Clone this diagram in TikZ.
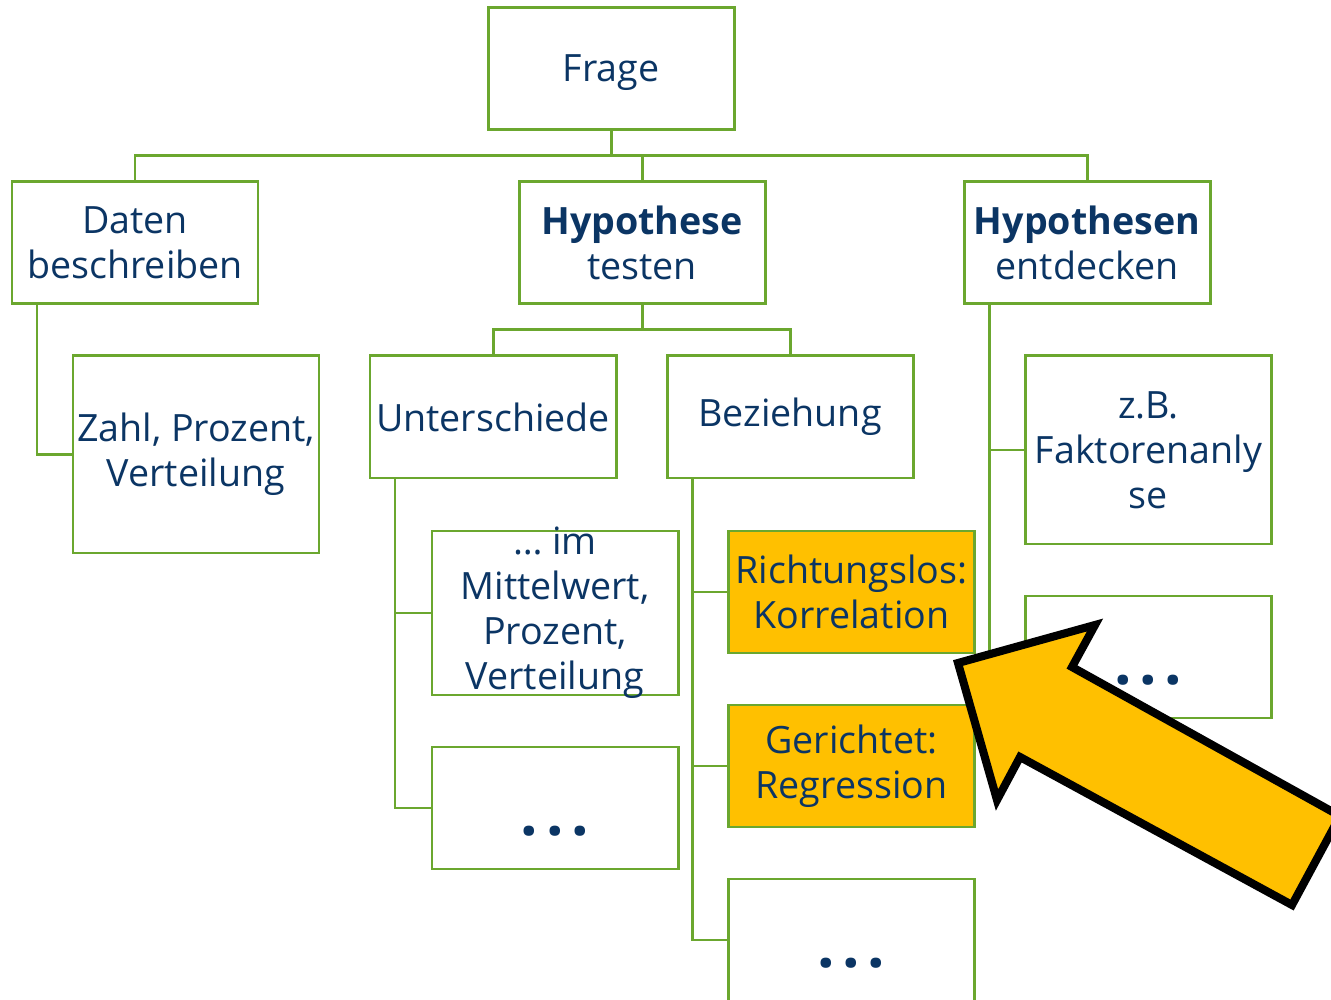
\documentclass[tikz,border=0pt]{standalone}
\usepackage{fontspec}
\setmainfont{Open Sans}
\usetikzlibrary{positioning}

\definecolor{boxgreen}{HTML}{6BA72F}
\definecolor{textblue}{HTML}{0B3564}
\definecolor{hiyellow}{HTML}{FFC000}

\newcommand{\bigdots}{{\fontsize{17.5}{20}\selectfont\bfseries\rule[-2.4pt]{0pt}{20.4pt}.\hspace{2.2pt}.\hspace{2.2pt}.}}

\tikzset{
    box/.style={draw=boxgreen, line width=0.85pt, minimum width=2.46cm,
        minimum height=1.22cm, inner sep=0pt, outer sep=0pt, align=center,
        text=textblue, font=\fontsize{10.7}{12.8}\selectfont},
    link/.style={draw=boxgreen, line width=0.85pt},
    pointer/.style={draw=black, fill=hiyellow, line width=2.3pt, line join=miter},
}

\begin{document}
\begin{tikzpicture}
    \useasboundingbox (0,0) rectangle (13.31,-10);
    \node[box] (frage) at (6.11,-0.69) {\rule[-3pt]{0pt}{13pt}Frage};
    \node[box, below=0.52cm of frage, xshift=-4.76cm] (daten) {Daten\\beschreiben};
    \node[box, below=0.52cm of frage, xshift=0.31cm] (hyp) {\textbf{Hypothese}\\testen};
    \node[box, below=0.52cm of frage, xshift=4.76cm] (entd) {\textbf{Hypothesen}\\entdecken};

    \node[box, minimum height=1.97cm, below=0.52cm of daten, xshift=0.61cm] (zahl) {Zahl, Prozent,\\Verteilung};

    \node[box, below=0.52cm of hyp, xshift=-1.49cm] (unter) {Unterschiede};
    \node[box, below=0.52cm of hyp, xshift=1.48cm] (bez) {Beziehung};

    \node[box, minimum height=1.64cm, below=0.53cm of unter, xshift=0.62cm] (mittel)
        {\parbox[c][1.2cm][c]{2.46cm}{\centering … im\\Mittelwert,\\Prozent,\\Verteilung}};
    \node[box, below=0.52cm of mittel] (dotsa) {\bigdots};

    \node[box, fill=hiyellow, below=0.53cm of bez, xshift=0.615cm] (richtung) {Richtungslos:\\Korrelation};
    \node[box, fill=hiyellow, below=0.52cm of richtung] (gericht) {Gerichtet:\\Regression};
    \node[box, below=0.52cm of gericht] (dotsb) {\bigdots};

    \node[box, minimum height=1.88cm, below=0.52cm of entd, xshift=0.615cm] (zb) {z.B.\\Faktorenanly\\se};
    \node[box, below=0.52cm of zb] (dotsc) {\bigdots};

    \draw[link] (frage.south) -- ++(0,-0.26) -| (daten.north);
    \draw[link] (frage.south) -- ++(0,-0.26) -| (hyp.north);
    \draw[link] (frage.south) -- ++(0,-0.26) -| (entd.north);
    \draw[link] ([xshift=0.25cm]daten.south west) |- (zahl.west);
    \draw[link] (hyp.south) -- ++(0,-0.26) -| (unter.north);
    \draw[link] (hyp.south) -- ++(0,-0.26) -| (bez.north);
    \draw[link] ([xshift=0.25cm]unter.south west) |- (mittel.west);
    \draw[link] ([xshift=0.25cm]unter.south west) |- (dotsa.west);
    \draw[link] ([xshift=0.25cm]bez.south west) |- (richtung.west);
    \draw[link] ([xshift=0.25cm]bez.south west) |- (gericht.west);
    \draw[link] ([xshift=0.25cm]bez.south west) |- (dotsb.west);
    \draw[link] ([xshift=0.25cm]entd.south west) |- (zb.west);
    \draw[link] ([xshift=0.25cm]entd.south west) |- (dotsc.west);

    \draw[pointer] (9.58,-6.63) -- (10.95,-6.25) -- (10.72,-6.67) -- (13.40,-8.16)
        -- (12.92,-9.05) -- (10.20,-7.57) -- (9.97,-8.00) -- cycle;
\end{tikzpicture}
\end{document}
